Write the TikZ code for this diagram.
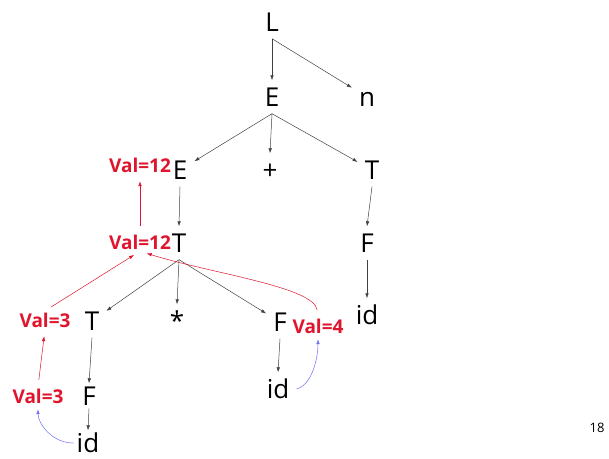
\documentclass[tikz,border=0pt]{standalone}
\usepackage{fontspec}
\setmainfont{Open Sans}
\usetikzlibrary{positioning, arrows.meta}
\definecolor{cVAL}{HTML}{E0142C}
\definecolor{cLEX}{HTML}{6E6EF2}
\definecolor{cEDGE}{HTML}{404040}
\tikzset{
  sym/.style={
    inner sep=7pt,
    text height=19pt,
    text depth=0pt,
    font=\fontsize{26}{30}\selectfont
  },
  val/.style={
    inner sep=2pt,
    text height=14pt,
    text depth=0pt,
    text=cVAL,
    font=\fontsize{19}{22}\selectfont\bfseries
  },
  tree/.style={
    -{Latex[length=5pt,width=3.5pt]},
    line width=0.5pt,
    draw=cEDGE
  },
  synth/.style={
    -{Latex[length=5pt,width=3.5pt]},
    line width=0.5pt,
    draw=cVAL,
    shorten <=7pt,
    shorten >=7pt
  },
  lexval/.style={
    -{Latex[length=5pt,width=3.5pt]},
    line width=0.5pt,
    draw=cLEX,
    shorten >=4pt
  }
}

\begin{document}
\begin{tikzpicture}[x=1pt, y=-1pt]
  \useasboundingbox (0,0) rectangle (609,458);

  % parse tree
  \node[sym] (L) at (272,22) {L};
  \node[sym] (E) at (272,97) {E};
  \node[sym] (n) at (367,97) {n};
  \node[sym] (e1) at (180,170) {E};
  \node[sym] (plus) at (270,170) {+};
  \node[sym] (t2) at (372,170) {T};
  \node[sym] (t1) at (179,243) {T};
  \node[sym] (f2) at (367,243) {F};
  \node[sym] (t0) at (92,321) {T};
  \node[sym] (star) at (177,321) {*};
  \node[sym] (f1) at (280,322) {F};
  \node[sym] (id2) at (367,315) {id};
  \node[sym, inner sep=3pt] (f0) at (89,396) {F};
  \node[sym, inner sep=3pt] (id0) at (88,443) {id};
  \node[sym] (id1) at (278,389) {id};

  \draw[tree] (L.south) -- (E.north);
  \draw[tree] (L.south) -- (n);
  \draw[tree] (E.south) -- (e1);
  \draw[tree] (E.south) -- (plus.north);
  \draw[tree] (E.south) -- (t2);
  \draw[tree] (e1.south) -- (t1.north);
  \draw[tree] (t2.south) -- (f2.north);
  \draw[tree] (f2.south) -- (id2.north);
  \draw[tree] (t1.south) -- (t0);
  \draw[tree] (t1.south) -- (star.north);
  \draw[tree] (t1.south) -- (f1);
  \draw[tree] (t0.south) -- (f0.north);
  \draw[tree] (f0.south) -- (id0.north);
  \draw[tree] (f1.south) -- (id1.north);

  % attribute values
  \node[val] (v12e) at (140,165) {Val=12};
  \node[val] (v12t) at (140,242) {Val=12};
  \node[val] (v3t) at (45,320) {Val=3};
  \node[val] (v4) at (318,326) {Val=4};
  \node[val] (v3f) at (38,396) {Val=3};

  \draw[synth] (v12t.north) -- (v12e.south);
  \draw[synth] (v3t.north) -- (v12t.south);
  \draw[synth] (v3f.north) -- (v3t.south);
  \draw[synth] (v4.north) .. controls +(-4,-30) and +(70,22) .. (v12t.south);

  \draw[lexval] (id0.west) .. controls +(-22,0) and +(0,18) .. (v3f.south);
  \draw[lexval] (id1.east) .. controls +(16,-4) and +(0,22) .. (v4.south);

  \node[font=\fontsize{13}{15}\selectfont\rmfamily] (page) at (597,428) {18};
\end{tikzpicture}
\end{document}
